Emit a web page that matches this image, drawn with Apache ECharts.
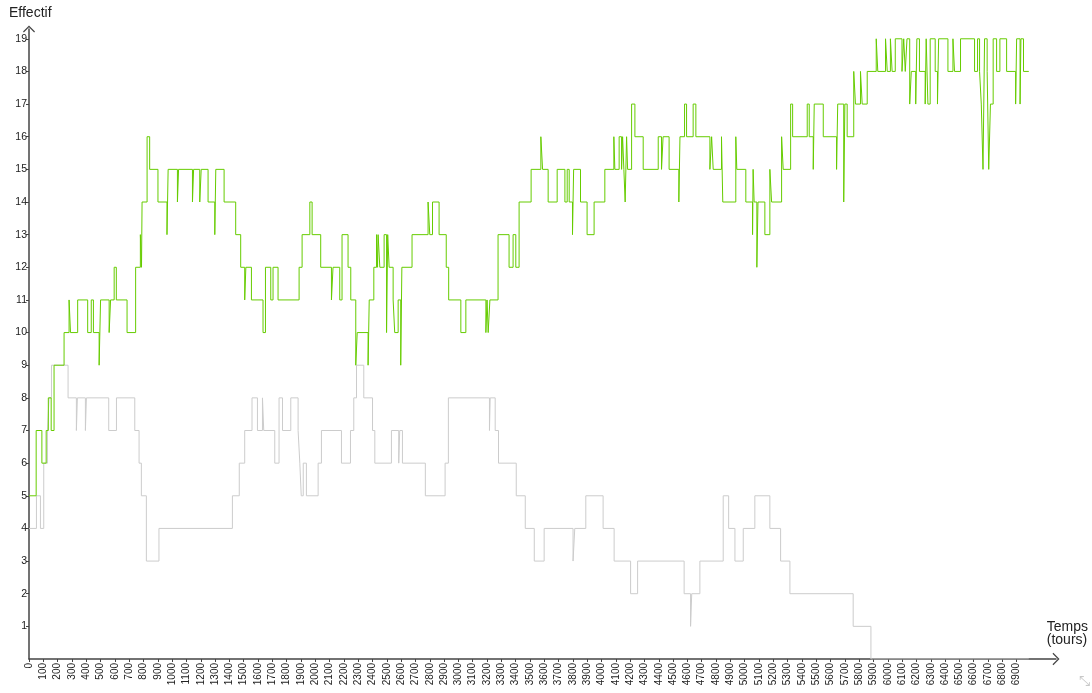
<!DOCTYPE html>
<html>
<head>
<meta charset="utf-8">
<script src="https://cdn.jsdelivr.net/npm/echarts@6/dist/echarts.min.js"></script>
<style>
  html, body { margin: 0; padding: 0; background: #fff; }
  #chart { width: 1092px; height: 693px; }
</style>
</head>
<body>
<div id="chart"></div>
<script>
// population counts over time (tours), step changes
const greenTime = [0, 50, 90, 120, 135, 155, 175, 245, 280, 290, 340, 410, 435, 450, 490, 500, 560, 570, 595, 610, 685, 745, 778, 786, 790, 825, 843, 901, 964, 972, 1037, 1045, 1142, 1150, 1193, 1203, 1251, 1298, 1305, 1363, 1444, 1479, 1507, 1515, 1554, 1635, 1652, 1689, 1705, 1740, 1887, 1908, 1962, 1978, 2038, 2113, 2124, 2171, 2187, 2229, 2248, 2283, 2293, 2369, 2377, 2409, 2428, 2435, 2439, 2451, 2481, 2498, 2506, 2516, 2544, 2555, 2579, 2597, 2605, 2676, 2788, 2800, 2819, 2865, 2915, 2932, 3017, 3052, 3192, 3200, 3208, 3220, 3277, 3354, 3382, 3401, 3424, 3508, 3576, 3588, 3627, 3690, 3744, 3760, 3774, 3797, 3805, 3853, 3899, 3948, 4023, 4086, 4093, 4123, 4140, 4147, 4156, 4165, 4175, 4182, 4210, 4233, 4291, 4396, 4419, 4430, 4472, 4540, 4548, 4580, 4594, 4640, 4659, 4757, 4769, 4780, 4838, 4847, 4938, 4945, 5008, 5055, 5059, 5066, 5085, 5093, 5141, 5176, 5188, 5258, 5269, 5321, 5335, 5437, 5451, 5479, 5486, 5549, 5642, 5650, 5692, 5700, 5716, 5762, 5774, 5809, 5821, 5856, 5919, 5930, 5984, 5996, 6018, 6030, 6052, 6099, 6111, 6122, 6134, 6153, 6164, 6195, 6203, 6221, 6261, 6268, 6280, 6296, 6331, 6347, 6355, 6420, 6455, 6466, 6508, 6606, 6627, 6641, 6653, 6665, 6676, 6694, 6705, 6717, 6736, 6760, 6783, 6830, 6893, 6900, 6924, 6930, 6948, 6985]
const greenCount = [5, 7, 6, 7, 8, 7, 9, 10, 11, 10, 11, 10, 11, 10, 9, 11, 10, 11, 12, 11, 10, 12, 13, 12, 14, 16, 15, 14, 13, 15, 14, 15, 14, 15, 14, 15, 14, 13, 15, 14, 13, 12, 11, 12, 11, 10, 12, 11, 12, 11, 12, 13, 14, 13, 12, 11, 12, 11, 13, 12, 11, 9, 10, 9, 11, 12, 13, 12, 13, 12, 13, 10, 13, 12, 11, 10, 11, 9, 12, 13, 14, 13, 14, 13, 12, 11, 10, 11, 10, 11, 10, 11, 13, 12, 13, 12, 14, 15, 16, 15, 14, 15, 14, 15, 14, 13, 15, 14, 13, 14, 15, 16, 15, 16, 15, 16, 15, 14, 16, 15, 17, 16, 15, 16, 15, 16, 15, 14, 16, 17, 16, 17, 16, 15, 16, 15, 16, 14, 16, 15, 14, 13, 15, 14, 12, 14, 13, 15, 14, 16, 15, 17, 16, 17, 16, 15, 17, 16, 15, 17, 14, 17, 16, 18, 17, 18, 17, 18, 19, 18, 19, 18, 19, 18, 19, 18, 19, 18, 19, 17, 18, 17, 19, 18, 17, 19, 17, 19, 18, 17, 19, 18, 19, 18, 19, 18, 19, 18, 17, 15, 19, 18, 15, 17, 19, 18, 19, 18, 17, 19, 17, 19, 18, 18]

const grayTime = [0, 52, 80, 103, 129, 140, 157, 273, 331, 338, 394, 401, 557, 611, 739, 769, 785, 820, 908, 1421, 1469, 1507, 1558, 1596, 1631, 1640, 1717, 1747, 1771, 1829, 1880, 1892, 1902, 1916, 1938, 2020, 2043, 2183, 2246, 2269, 2288, 2339, 2400, 2416, 2532, 2583, 2590, 2609, 2769, 2907, 2930, 3217, 3222, 3257, 3280, 3404, 3467, 3530, 3599, 3801, 3813, 3890, 4011, 4088, 4203, 4252, 4577, 4622, 4630, 4687, 4850, 4888, 4932, 4990, 5071, 5176, 5251, 5316, 5758, 5882, 6985]
const grayCount = [4, 5, 4, 6, 7, 8, 9, 8, 7, 8, 7, 8, 7, 8, 7, 6, 5, 3, 4, 5, 6, 7, 8, 7, 8, 7, 6, 8, 7, 8, 7, 6, 5, 6, 5, 6, 7, 6, 7, 8, 9, 8, 7, 6, 7, 6, 7, 6, 5, 6, 8, 7, 8, 7, 6, 5, 4, 3, 4, 3, 4, 5, 4, 3, 2, 3, 2, 1, 2, 3, 5, 4, 3, 4, 5, 4, 3, 2, 1, 0, 0]

const xTicks = Array.from({ length: 70 }, (_, i) => i * 100)
const yTicks = Array.from({ length: 19 }, (_, i) => i + 1)

const chevron = 'path://M0,10 L10,0 L20,10 L18.6,11.4 L10,2.8 L1.4,11.4 Z'
const axisColor = '#444'
const labelFont = { color: '#222', fontSize: 10, fontFamily: 'Liberation Sans, Arial, sans-serif' }

const chart = echarts.init(document.getElementById('chart'))
chart.setOption({
  animation: false,
  backgroundColor: '#fff',
  grid: { left: 29, right: 36, top: 29, bottom: 34 },
  xAxis: {
    type: 'value',
    min: 0,
    max: 7175,
    axisLine: { show: true, symbol: ['none', chevron], symbolSize: [13, 7], lineStyle: { color: axisColor, width: 1.5 } },
    axisTick: { show: true, customValues: xTicks, length: 3, lineStyle: { color: axisColor } },
    axisLabel: { customValues: xTicks, rotate: 90, margin: 4, formatter: (v) => String(v), ...labelFont },
    splitLine: { show: false },
  },
  yAxis: {
    type: 'value',
    min: 0,
    max: 19.3,
    axisLine: { show: true, symbol: ['none', chevron], symbolSize: [12, 7], lineStyle: { color: axisColor, width: 1.5 } },
    axisTick: { show: true, customValues: yTicks, length: 3, lineStyle: { color: axisColor } },
    axisLabel: { customValues: yTicks, margin: 2, formatter: (v) => String(v), ...labelFont, fontSize: 10.5 },
    splitLine: { show: false },
  },
  series: [
    {
      name: 'gris',
      type: 'line',
      step: 'end',
      symbol: 'none',
      data: grayTime.map((t, i) => [t, grayCount[i]]),
      lineStyle: { color: '#cccccc', width: 1 },
    },
    {
      name: 'vert',
      type: 'line',
      step: 'end',
      symbol: 'none',
      data: greenTime.map((t, i) => [t, greenCount[i]]),
      lineStyle: { color: '#66cc00', width: 1 },
    },
  ],
  graphic: [
    { type: 'text', left: 9, top: 6, style: { text: 'Effectif', fill: '#222', font: '14px "Liberation Sans", Arial, sans-serif' } },
    { type: 'text', right: 4, top: 620, style: { text: 'Temps\n(tours)', fill: '#222', align: 'right', lineHeight: 13, font: '14px "Liberation Sans", Arial, sans-serif' } },
    { type: 'text', left: 1079, top: 675, style: { text: '⤡', fill: '#c8c8c8', font: '14px "DejaVu Sans", sans-serif' } },
  ],
})

window.addEventListener('resize', () => chart.resize())
</script>
</body>
</html>
